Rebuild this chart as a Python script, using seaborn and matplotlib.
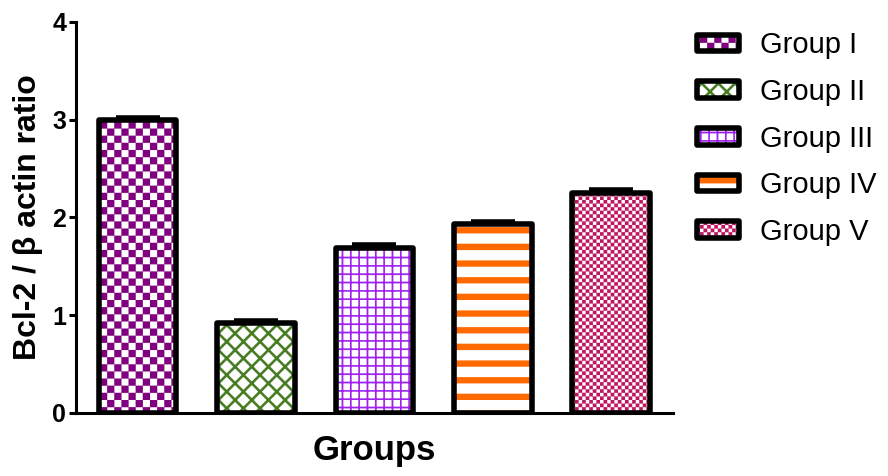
import numpy as np
import pandas as pd
import matplotlib
matplotlib.use('Agg')
import matplotlib.pyplot as plt
import matplotlib.hatch as mhatch
from matplotlib.path import Path
from matplotlib.colors import to_rgba
import seaborn as sns

# ---------------- data ----------------
groups = ['Group I', 'Group II', 'Group III', 'Group IV', 'Group V']
ratio = [3.00, 0.92, 1.69, 1.93, 2.25]
sem = [0.02, 0.02, 0.03, 0.025, 0.03]
hatch_colors = ['#800080', '#467c22', '#a020f0', '#ff6a00', '#bf1560']
hatches = ['o', 'x', '+', '-', 'O']
y_ticks = [0, 1, 2, 3, 4]


# ---------------- custom hatch patterns (filled shapes) ----------------
def _ccw(poly):
    p = np.asarray(poly, float)
    x, y = p[:, 0], p[:, 1]
    area = 0.5 * np.sum(x * np.roll(y, -1) - np.roll(x, -1) * y)
    return p if area > 0 else p[::-1]


def _checker(n):
    s = 1.0 / (2 * n)
    polys = []
    for i in range(2 * n):
        for j in range(2 * n):
            if (i + j) % 2 == 0:
                polys.append([(i * s, j * s), ((i + 1) * s, j * s),
                              ((i + 1) * s, (j + 1) * s), (i * s, (j + 1) * s)])
    return polys


def _hstripes(n, t):
    return [[(-0.1, k / n), (1.1, k / n), (1.1, k / n + t), (-0.1, k / n + t)]
            for k in range(n)]


def _vstripes(n, t):
    return [[(k / n, -0.1), (k / n + t, -0.1), (k / n + t, 1.1), (k / n, 1.1)]
            for k in range(n)]


def _diag(n, w):
    polys = []
    e = 0.1
    for k in range(-n - 1, n + 2):
        c = k / n
        polys.append([(c - e, -e), (c + w - e, -e), (c + w + 1 + e, 1 + e), (c + 1 + e, 1 + e)])
        polys.append([(c - e, 1 + e), (c + w - e, 1 + e), (c + w + 1 + e, -e), (c + 1 + e, -e)])
    return polys


class _CustomHatch(mhatch.HatchPatternBase):
    def __init__(self, hatch, density):
        polys = []
        if hatch:
            if 'o' in hatch:
                polys += _checker(7)
            if 'O' in hatch:
                polys += _checker(14)
            if 'x' in hatch:
                polys += _diag(6, 0.035)
            if '+' in hatch:
                polys += _hstripes(12, 0.016) + _vstripes(12, 0.016)
            if '-' in hatch:
                polys += _hstripes(6, 0.062)
        self.polys = [_ccw(p) for p in polys]
        self.num_vertices = 5 * len(self.polys)

    def set_vertices_and_codes(self, vertices, codes):
        for k, p in enumerate(self.polys):
            vertices[5 * k:5 * k + 4] = p
            vertices[5 * k + 4] = p[0]
            codes[5 * k] = Path.MOVETO
            codes[5 * k + 1:5 * k + 4] = Path.LINETO
            codes[5 * k + 4] = Path.CLOSEPOLY


mhatch._hatch_types = [_CustomHatch]

# ---------------- style ----------------
sns.set_style('ticks', {'axes.edgecolor': 'black', 'xtick.color': 'black',
                        'ytick.color': 'black', 'text.color': 'black',
                        'axes.labelcolor': 'black'})
plt.rcParams['font.family'] = ['Liberation Sans', 'DejaVu Sans']
plt.rcParams['hatch.linewidth'] = 0.1

fig = plt.figure(figsize=(8.88, 4.76), dpi=100)
ax = fig.add_axes([0.0856, 0.1324, 0.672, 0.8214])

df = pd.DataFrame({'group': groups, 'ratio': ratio})
sns.barplot(data=df, x='group', y='ratio', hue='group', palette=['white'] * len(groups),
            saturation=1, width=0.655, edgecolor='black', linewidth=4,
            errorbar=None, legend=False, ax=ax, zorder=2)

bars = sorted(ax.patches, key=lambda p: p.get_x())
for p, h, c in zip(bars, hatches, hatch_colors):
    p.set_hatch(h)
    try:
        p.set_hatchcolor(c)
    except AttributeError:
        p._hatch_color = to_rgba(c)
    p.set_joinstyle('round')

ax.errorbar(np.arange(len(groups)), ratio, yerr=sem, fmt='none', ecolor='black',
            elinewidth=4, capsize=15.5, capthick=4, zorder=1)

ax.set_xlim(-0.52, 4.52)
ax.set_ylim(0, 4)
ax.set_yticks(y_ticks)
ax.set_xticks([])
sns.despine(ax=ax)
for s in ('left', 'bottom'):
    ax.spines[s].set_linewidth(2.2)
ax.tick_params(axis='y', width=2.2, length=5, labelsize=18, pad=2)
for t in ax.get_yticklabels():
    t.set_fontweight('bold')

ax.set_xlabel('Groups', fontsize=25, fontweight='bold', labelpad=15)
ax.set_ylabel('Bcl-2 / β actin ratio', fontsize=23, fontweight='bold', labelpad=7)

leg = ax.legend(handles=bars, labels=groups, loc='upper left',
                bbox_to_anchor=(0.785, 0.934), bbox_transform=fig.transFigure,
                frameon=False, fontsize=21, handlelength=1.45, handleheight=0.5,
                handletextpad=0.7, labelspacing=0.64, borderpad=0, borderaxespad=0)
for h in leg.legend_handles:
    h.set_joinstyle('round')

fig.savefig('out.png', dpi=100)
